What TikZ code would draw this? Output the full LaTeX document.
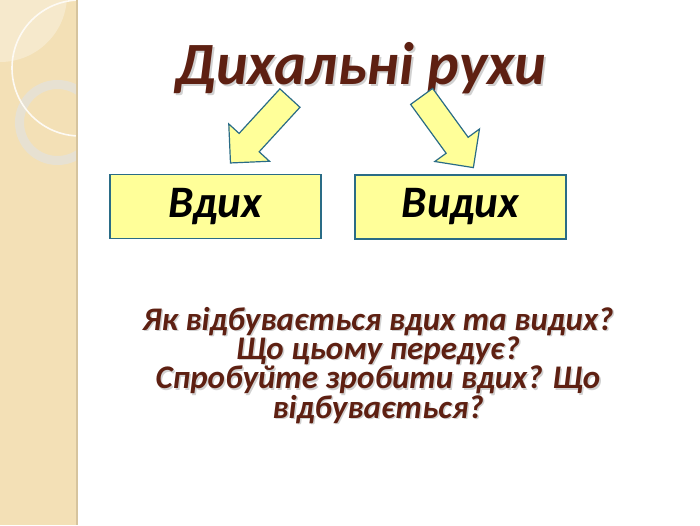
\documentclass[tikz,border=0pt]{standalone}
\usepackage{fontspec}
\setmainfont{Carlito}
\usetikzlibrary{shapes.arrows}
\definecolor{stripbeige}{RGB}{243,224,182}
\definecolor{stripedge}{RGB}{214,196,158}
\definecolor{ringgrey}{RGB}{230,226,214}
\definecolor{titlebrown}{RGB}{94,32,18}
\definecolor{boxyellow}{RGB}{255,255,153}
\definecolor{boxedge}{RGB}{42,108,134}
\tikzset{
  word box/.style={
    draw=boxedge,
    line width=1.5pt,
    fill=boxyellow,
    minimum width=211pt,
    minimum height=64pt,
    inner sep=0pt,
    font=\fontsize{45}{50}\selectfont\bfseries\itshape,
  },
  block arrow/.style={
    single arrow,
    draw=boxedge,
    line width=1.2pt,
    fill=boxyellow,
    minimum height=88pt,
    inner xsep=0pt,
    inner ysep=13pt,
    single arrow head extend=14pt,
  },
  brown text/.style={
    text=titlebrown,
    align=center,
  },
  title font/.style={font=\fontsize{60}{66}\selectfont\bfseries\itshape},
  quest font/.style={font=\fontsize{33}{28}\selectfont\bfseries\itshape},
}

\begin{document}
\begin{tikzpicture}[x=1pt, y=-1pt]
        \useasboundingbox[fill=white] (0,0) rectangle (700,525);
        \begin{scope}
          \clip (0,0) rectangle (77,525);
          \fill[stripbeige] (0,0) rectangle (77,525);
          \fill[white, opacity=.3] (0,-5) circle (67);
          \draw[ringgrey, opacity=.9, line width=9pt] (57.5,122.5) circle (38);
          \draw[white!85!stripbeige, line width=1.6pt] (80,68) circle (68);
        \end{scope}
        \draw[stripedge, line width=1.5pt] (77,0) -- (77,525);

        \node[brown text, title font, text=black, opacity=.18, anchor=base] (titleshadow) at (363,86) {Дихальні рухи};
        \node[brown text, title font, anchor=base] (title) at (361,84) {Дихальні рухи};

        \node[block arrow, rotate=-132.5] (inarrow)  at (264.8,125.5) {};
        \node[block arrow, rotate=-54]    (outarrow) at (443.5,126.5) {};

        \node[word box] (inhale) at (215.5,206.5) {Вдих};
        \node[word box] (exhale) at (460.5,207)   {Видих};

        \node[brown text, quest font, text=black, opacity=.18, anchor=base] (questshadow) at (379.5,419.5)
          {Як відбувається вдих та видих?\\Що цьому передує?\\Спробуйте зробити вдих? Що\\відбувається?};
        \node[brown text, quest font, anchor=base] (questions) at (378,418)
          {Як відбувається вдих та видих?\\Що цьому передує?\\Спробуйте зробити вдих? Що\\відбувається?};
\end{tikzpicture}
\end{document}
